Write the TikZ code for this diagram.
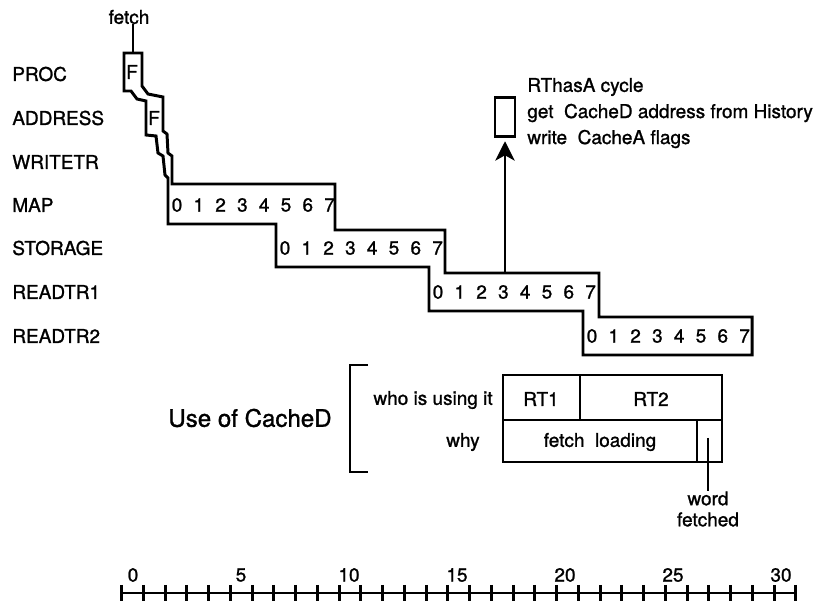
\documentclass[tikz,border=0pt]{standalone}
\usepackage{fontspec}
\setmainfont{TeX Gyre Heros}[FakeBold=1.2,AutoFakeBold=1.2]
\usetikzlibrary{arrows.meta}
\tikzset{
  lbl/.style={anchor=west,inner sep=0pt,font=\fontsize{10.8}{12}\selectfont\bfseries},
  dig/.style={inner sep=0pt,font=\fontsize{10.8}{12}\selectfont\bfseries},
  txt/.style={inner sep=0pt,font=\fontsize{10.8}{12}\selectfont\bfseries},
  vonal/.style={line width=1.7pt,line join=miter},
  keret/.style={line width=1.4pt},
  nyil/.style={line width=1.7pt,-{Stealth[length=11pt,width=11pt,inset=3pt]}},
}
\begin{document}
\begin{tikzpicture}[x=0.02cm,y=-0.02cm]
  \useasboundingbox (0,0) rectangle (822,607);
  % pipeline rows
  \foreach \n/\t/\y in {proc/PROC/74,addr/ADDRESS/118,wtr/WRITETR/162,map/MAP/205,
                        stor/STORAGE/248,rd1/READTR1/292,rd2/READTR2/336}
    \node[lbl] (\n) at (12,\y) {\t};
  \node[txt] (fetch) at (129,17) {fetch};
  \coordinate (f0) at (133,53);
  \draw[vonal] (fetch.south -| f0) -- (f0);
  \draw[vonal] (124,53) -- (124,91) -- (131,91) -- (137,99) -- (146,101) -- (146,135)
    -- (156,136) -- (158,153) -- (163,156) -- (165,175) -- (168,178) -- (168,224)
    -- (276,224) -- (276,267) -- (429,267) -- (429,311) -- (583,311) -- (583,355)
    -- (752,355) -- (752,317) -- (599,317) -- (599,273) -- (445,273) -- (445,230)
    -- (335,230) -- (335,184) -- (172,184) -- (172,156) -- (168,153) -- (167,134)
    -- (163,131) -- (163,97) -- (148,94) -- (142,86) -- (142,53) -- cycle;
  \node[txt] (fp) at (132,72) {F};
  \node[txt] (fa) at (154,118) {F};
  \foreach \r/\l/\y in {m/168/205,s/276/248,a/429/292,b/583/336}
    \foreach \i in {0,...,7}
      \node[dig] (\r\i) at ({\l+9+21.8*\i},\y) {\i};
  % RThasA
  \node[draw,keret,minimum width=0.4cm,minimum height=0.78cm,inner sep=0pt] (rt) at (505,117) {};
  \coordinate (a0) at (505,273);
  \draw[nyil,shorten >=2pt] (a0) -- (rt.south);
  \node[txt,anchor=west] (rt1) at (527,87) {RThasA cycle};
  \node[txt,anchor=west] (rt2) at (527,113) {get\ \ CacheD address from History};
  \node[txt,anchor=west] (rt3) at (527,139) {write\ \ CacheA flags};
  % use of CacheD
  \node[inner sep=0pt,font=\fontsize{13.7}{15}\selectfont] (use) at (250,418) {Use of CacheD};
  \draw[keret] (368,365) -- (350,365) -- (350,472) -- (368,472);
  \node[txt,anchor=east] (who) at (493,400) {who is using it};
  \node[txt,anchor=east] (why) at (480,442) {why};
  \draw[keret] (503,375) rectangle (722,462);
  \draw[keret] (503,420) -- (722,420);
  \draw[keret] (580,375) -- (580,420);
  \draw[keret] (697,420) -- (697,462);
  \node[txt] (c1) at (541,399) {RT1};
  \node[txt] (c2) at (651,399) {RT2};
  \node[txt] (c3) at (600,442) {fetch\ \ loading};
  \node[txt,align=center] (wf) at (708,509) {word\\fetched};
  \coordinate (w0) at (708,438);
  \draw[vonal] (w0) -- (wf.north);
  % time scale
  \draw[vonal] (121.7,593) -- (796,593);
  \foreach \i in {0,...,31}
    \draw[vonal] ({121.7+21.75*\i},585) -- ++(0,16);
  \foreach \i in {0,5,...,30}
    \node[dig] (t\i) at ({133+21.6*\i},575) {\i};
\end{tikzpicture}
\end{document}
